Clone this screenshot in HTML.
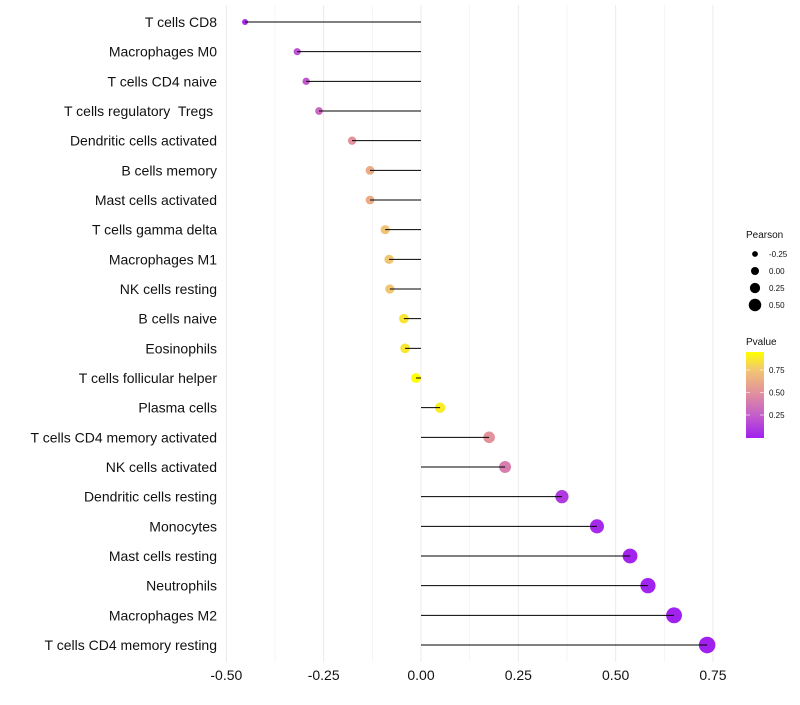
<!DOCTYPE html>
<html><head><meta charset="utf-8"><style>
body{margin:0;background:#fff;font-family:"Liberation Sans",sans-serif;}
text{white-space:pre;}
</style></head><body>
<svg id="c" width="800" height="700" xmlns="http://www.w3.org/2000/svg">
<defs><linearGradient id="pg" x1="0" y1="1" x2="0" y2="0">
<stop offset="0" stop-color="#a020f0"/><stop offset="0.27" stop-color="#c460c8"/><stop offset="0.53" stop-color="#e2929c"/><stop offset="0.8" stop-color="#f2c870"/><stop offset="1" stop-color="#ffff00"/></linearGradient></defs>
</svg>
<script>
const categories=["T cells CD8","Macrophages M0","T cells CD4 naive","T cells regulatory  Tregs ","Dendritic cells activated","B cells memory","Mast cells activated","T cells gamma delta","Macrophages M1","NK cells resting","B cells naive","Eosinophils","T cells follicular helper","Plasma cells","T cells CD4 memory activated","NK cells activated","Dendritic cells resting","Monocytes","Mast cells resting","Neutrophils","Macrophages M2","T cells CD4 memory resting"];
const pearson=[-0.452,-0.318,-0.295,-0.262,-0.177,-0.131,-0.131,-0.092,-0.082,-0.080,-0.044,-0.041,-0.013,0.049,0.175,0.216,0.362,0.452,0.537,0.583,0.650,0.735];
const pvalue=[0.04,0.2,0.22,0.3,0.5,0.62,0.62,0.72,0.74,0.74,0.86,0.86,0.95,0.88,0.5,0.4,0.1,0.04,0.02,0.01,0.005,0.001];
const xTicks=[-0.5,-0.25,0,0.25,0.5,0.75];
const xTickLabels=["-0.50","-0.25","0.00","0.25","0.50","0.75"];
const sizeLegend=[-0.25,0,0.25,0.5];
const sizeLegendLabels=["-0.25","0.00","0.25","0.50"];
const pTicks=[0.25,0.5,0.75];
const pTickLabels=["0.25","0.50","0.75"];

const svg=document.getElementById('c');const NS="http://www.w3.org/2000/svg";
function X(v){return 421+v*389.3;}
function Y(i){return 22+i*29.667;}
function R(v){return 5+4.5*v;}
const stops=[[0,[160,32,240]],[0.25,[196,96,200]],[0.5,[226,146,156]],[0.75,[242,200,112]],[0.95,[255,255,0]]];
function col(p){p=Math.max(0,Math.min(0.95,p));for(let k=0;k<stops.length-1;k++){const[a,ca]=stops[k],[b,cb]=stops[k+1];if(p<=b){const t=(p-a)/(b-a);return `rgb(${ca.map((c,j)=>Math.round(c+(cb[j]-c)*t)).join(',')})`;}}return 'rgb(255,255,0)';}
function el(t,a,txt){const e=document.createElementNS(NS,t);for(const k in a)e.setAttribute(k,a[k]);if(txt!==undefined)e.textContent=txt;svg.appendChild(e);return e;}
for(let v=-0.5;v<=0.751;v+=0.125){
 const g=el('line',{x1:X(v),x2:X(v),y1:5,y2:662,stroke:'#ebebeb','stroke-width':Math.abs((v*4)%1)<0.01?1:0.5});
 
 
}
xTicks.forEach((v,i)=>{
 const t=el('text',{x:X(v),y:680,'text-anchor':'middle','font-size':14,fill:'#111'},xTickLabels[i]);
 
 
});
categories.forEach((c,i)=>{
 const t=el('text',{x:217,y:Y(i)+5,'text-anchor':'end','font-size':14,fill:'#111'},c);
 
 
 const d=el('circle',{cx:X(pearson[i]),cy:Y(i),r:Math.max(1.8,R(pearson[i])),fill:col(pvalue[i])});
 
 
 const l=el('line',{x1:X(0),x2:X(pearson[i]),y1:Y(i),y2:Y(i),stroke:'#000','stroke-width':1});
 
 
});
let t=el('text',{x:746,y:238,'font-size':10,fill:'#111'},'Pearson');


sizeLegend.forEach((v,i)=>{
 const y=254+i*17;
 const c=el('circle',{cx:755,cy:y,r:R(v)-1,fill:'#000'});
 
 
 const l=el('text',{x:769,y:y+3,'font-size':8,fill:'#111'},sizeLegendLabels[i]);
 
 
});
t=el('text',{x:746,y:345,'font-size':10,fill:'#111'},'Pvalue');


const bar=el('rect',{x:746,y:352,width:18,height:86,fill:'url(#pg)'});


pTicks.forEach((v,i)=>{
 const y=437.5-v*90;
 el('line',{x1:746,x2:750,y1:y,y2:y,stroke:'#fff','stroke-width':0.6});
 el('line',{x1:760,x2:764,y1:y,y2:y,stroke:'#fff','stroke-width':0.6});
 const l=el('text',{x:769,y:y+3,'font-size':8,fill:'#111'},pTickLabels[i]);
 
 
});
</script>
</body></html>
